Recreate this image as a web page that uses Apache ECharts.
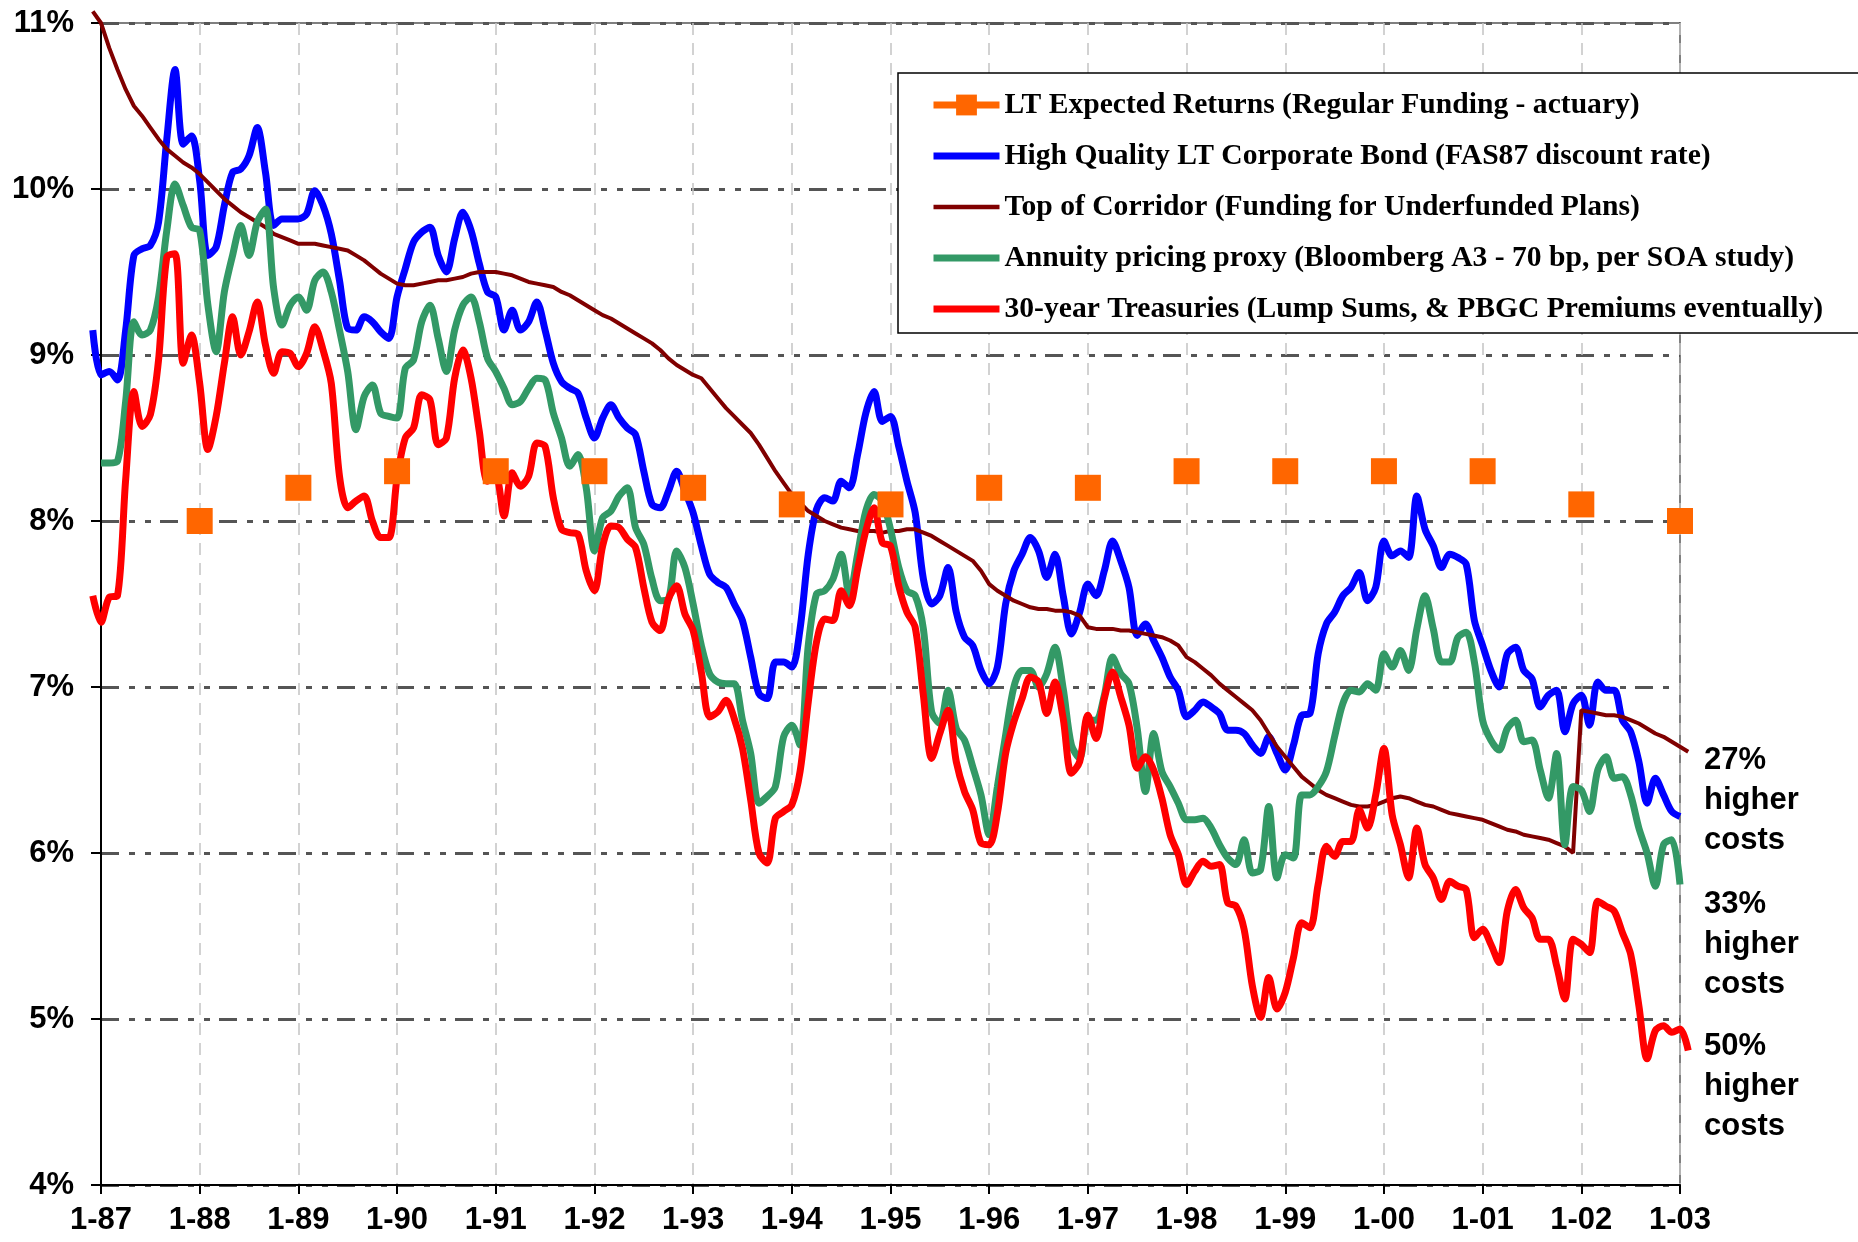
<!DOCTYPE html>
<html>
<head>
<meta charset="utf-8">
<title>Discount rates vs expected returns 1987-2003</title>
<script src="https://cdn.jsdelivr.net/npm/echarts@6/dist/echarts.min.js"></script>
<style>
  html, body { margin: 0; padding: 0; background: #fff; }
  #chart { width: 1858px; height: 1242px; }
</style>
</head>
<body>
<div id="chart"></div>
<script>
// monthly readings, the first one is Dec 1986
const START_YEAR = 1986
const START_MONTH = 12

const legendNames = [
    'LT Expected Returns (Regular Funding - actuary)',
    'High Quality LT Corporate Bond (FAS87 discount rate)',
    'Top of Corridor (Funding for Underfunded Plans)',
    'Annuity pricing proxy (Bloomberg A3 - 70 bp, per SOA study)',
    '30-year Treasuries (Lump Sums, & PBGC Premiums eventually)'
]

const xTickLabels = ['1-87', '1-88', '1-89', '1-90', '1-91', '1-92', '1-93', '1-94', '1-95',
    '1-96', '1-97', '1-98', '1-99', '1-00', '1-01', '1-02', '1-03']

// actuary's assumption, one per January
const expectedYears = [1988, 1989, 1990, 1991, 1992, 1993, 1994, 1995, 1996, 1997, 1998, 1999, 2000, 2001, 2002, 2003]
const expectedReturns = [8.0, 8.2, 8.3, 8.3, 8.3, 8.2, 8.1, 8.1, 8.2, 8.2, 8.3, 8.3, 8.3, 8.3, 8.1, 8.0]

// Dec 86 .. Jan 03
const corpBond = [
    9.15,
    8.88, 8.9, 8.85, 9.15, 9.6, 9.64, 9.66, 9.8, 10.3, 10.72, 10.27, 10.32,
    10.05, 9.6, 9.65, 9.9, 10.1, 10.12, 10.2, 10.37, 10.1, 9.78, 9.82, 9.82,
    9.82, 9.85, 9.99, 9.9, 9.73, 9.45, 9.16, 9.15, 9.23, 9.2, 9.14, 9.1,
    9.35, 9.52, 9.68, 9.74, 9.77, 9.6, 9.5, 9.7, 9.86, 9.75, 9.55, 9.38,
    9.35, 9.15, 9.27, 9.15, 9.2, 9.32, 9.15, 8.95, 8.84, 8.8, 8.77, 8.62,
    8.5, 8.62, 8.7, 8.62, 8.56, 8.52, 8.3, 8.1, 8.08, 8.18, 8.3, 8.18,
    8.05, 7.85, 7.68, 7.63, 7.6, 7.5, 7.4, 7.18, 6.96, 6.93, 7.15, 7.15,
    7.12, 7.35, 7.8, 8.07, 8.14, 8.12, 8.24, 8.2, 8.4, 8.65, 8.78, 8.6,
    8.63, 8.45, 8.24, 8.05, 7.65, 7.5, 7.55, 7.72, 7.45, 7.3, 7.25, 7.1,
    7.02, 7.12, 7.5, 7.7, 7.8, 7.9, 7.82, 7.66, 7.8, 7.55, 7.32, 7.45,
    7.62, 7.55, 7.7, 7.88, 7.76, 7.6, 7.31, 7.38, 7.28, 7.18, 7.06, 6.98,
    6.82, 6.86, 6.91, 6.88, 6.84, 6.74, 6.74, 6.72, 6.65, 6.6, 6.7, 6.6,
    6.5, 6.65, 6.83, 6.84, 7.2, 7.38, 7.45, 7.55, 7.6, 7.69, 7.52, 7.6,
    7.88, 7.79, 7.82, 7.78, 8.15, 7.95, 7.85, 7.72, 7.8, 7.78, 7.74, 7.4,
    7.25, 7.1, 7.0, 7.2, 7.24, 7.1, 7.05, 6.88, 6.95, 6.98, 6.73, 6.9,
    6.95, 6.77, 7.03, 6.98, 6.98, 6.8, 6.73, 6.55, 6.3, 6.45, 6.35, 6.25,
    6.22
]

// Dec 86 .. Feb 03
const corridorTop = [
    11.07,
    11.0, 10.85, 10.72, 10.6, 10.5, 10.44, 10.37, 10.3, 10.24, 10.2, 10.16, 10.13,
    10.09, 10.04, 9.99, 9.94, 9.9, 9.86, 9.83, 9.8, 9.77, 9.73, 9.71, 9.69,
    9.67, 9.67, 9.67, 9.66, 9.65, 9.64, 9.63, 9.6, 9.57, 9.53, 9.49, 9.46,
    9.43, 9.42, 9.42, 9.43, 9.44, 9.45, 9.45, 9.46, 9.47, 9.49, 9.5, 9.5,
    9.5, 9.49, 9.48, 9.46, 9.44, 9.43, 9.42, 9.41, 9.38, 9.36, 9.33, 9.3,
    9.27, 9.24, 9.22, 9.19, 9.16, 9.13, 9.1, 9.07, 9.03, 8.98, 8.94, 8.91,
    8.88, 8.86, 8.8, 8.74, 8.68, 8.63, 8.58, 8.53, 8.46, 8.38, 8.3, 8.23,
    8.16, 8.11, 8.06, 8.03, 8.0, 7.98, 7.96, 7.95, 7.94, 7.94, 7.94, 7.93,
    7.94, 7.94, 7.95, 7.95, 7.93, 7.91, 7.88, 7.85, 7.82, 7.79, 7.76, 7.7,
    7.62, 7.58, 7.55, 7.52, 7.5, 7.48, 7.47, 7.47, 7.46, 7.46, 7.45, 7.43,
    7.36, 7.35, 7.35, 7.35, 7.34, 7.34, 7.33, 7.32, 7.31, 7.3, 7.28, 7.25,
    7.18, 7.15, 7.11, 7.07, 7.02, 6.98, 6.94, 6.9, 6.86, 6.8, 6.72, 6.64,
    6.58, 6.52, 6.46, 6.42, 6.38, 6.35, 6.33, 6.31, 6.29, 6.28, 6.28, 6.29,
    6.31, 6.33, 6.34, 6.33, 6.31, 6.29, 6.28, 6.26, 6.24, 6.23, 6.22, 6.21,
    6.2, 6.18, 6.16, 6.14, 6.13, 6.11, 6.1, 6.09, 6.08, 6.06, 6.04, 6.0,
    6.86, 6.85, 6.84, 6.83, 6.83, 6.82, 6.8, 6.78, 6.75, 6.72, 6.7, 6.67,
    6.64, 6.61
]

// Dec 86 (none) .. Jan 03
const annuityProxy = [
    null,
    8.35, 8.35, 8.36, 8.72, 9.2, 9.12, 9.15, 9.35, 9.75, 10.03, 9.9, 9.77,
    9.75, 9.3, 9.02, 9.38, 9.6, 9.78, 9.6, 9.8, 9.88, 9.4, 9.18, 9.3,
    9.35, 9.27, 9.45, 9.5, 9.38, 9.15, 8.9, 8.55, 8.75, 8.82, 8.65, 8.63,
    8.62, 8.92, 8.97, 9.2, 9.3, 9.1, 8.9, 9.15, 9.3, 9.35, 9.2, 8.98,
    8.9, 8.8, 8.7, 8.72, 8.8, 8.86, 8.85, 8.65, 8.5, 8.33, 8.4, 8.2,
    7.82, 8.02, 8.06, 8.15, 8.2, 7.96, 7.86, 7.65, 7.52, 7.53, 7.82, 7.72,
    7.5, 7.25, 7.08, 7.03, 7.02, 7.02, 6.8, 6.6, 6.3, 6.34, 6.4, 6.7,
    6.77, 6.65, 7.25, 7.56, 7.58, 7.65, 7.8, 7.55, 7.8, 8.06, 8.16, 8.12,
    7.95, 7.72, 7.58, 7.55, 7.35, 6.85, 6.78, 6.98, 6.75, 6.68, 6.52, 6.35,
    6.11, 6.4, 6.71, 7.0, 7.1, 7.1, 7.0, 7.08, 7.24, 6.99, 6.65, 6.57,
    6.8, 6.8, 6.95, 7.18, 7.08, 7.02, 6.75, 6.37, 6.72, 6.49, 6.4, 6.3,
    6.2, 6.2, 6.21, 6.15, 6.05, 5.97, 5.93, 6.08, 5.88, 5.9, 6.28, 5.85,
    5.99, 5.97, 6.35, 6.35, 6.4, 6.49, 6.7, 6.9, 6.98, 6.97, 7.02, 6.98,
    7.2, 7.12, 7.22, 7.1, 7.35, 7.55, 7.35, 7.15, 7.15, 7.3, 7.33, 7.15,
    6.8, 6.68, 6.62, 6.75, 6.8, 6.67, 6.68, 6.5, 6.33, 6.6, 6.05, 6.4,
    6.38, 6.25, 6.5, 6.58, 6.45, 6.46, 6.35, 6.15, 6.0, 5.8, 6.05, 6.08,
    5.81
]

// Dec 86 .. Feb 03
const treasury30 = [
    7.55,
    7.39, 7.54, 7.55, 8.25, 8.78, 8.57, 8.64, 8.97, 9.59, 9.61, 8.95, 9.12,
    8.83, 8.43, 8.63, 8.95, 9.23, 9.0, 9.14, 9.32, 9.06, 8.89, 9.02, 9.01,
    8.93, 9.01, 9.17, 9.03, 8.83, 8.27, 8.08, 8.12, 8.15, 8.0, 7.9, 7.9,
    8.26, 8.5, 8.56, 8.76, 8.73, 8.46, 8.5, 8.86, 9.03, 8.86, 8.54, 8.24,
    8.27, 8.03, 8.29, 8.21, 8.27, 8.47, 8.45, 8.14, 7.95, 7.93, 7.92, 7.7,
    7.58, 7.85, 7.97, 7.96, 7.89, 7.84, 7.6, 7.39, 7.34, 7.53, 7.61, 7.44,
    7.34, 7.09, 6.82, 6.85, 6.92, 6.81, 6.63, 6.32, 6.0, 5.94, 6.21, 6.25,
    6.29, 6.49, 6.91, 7.27, 7.41, 7.4, 7.58, 7.49, 7.71, 7.94, 8.08, 7.87,
    7.85, 7.61, 7.45, 7.36, 6.95, 6.57, 6.72, 6.86, 6.55, 6.37, 6.26, 6.06,
    6.05, 6.24, 6.6, 6.79, 6.93, 7.06, 7.03, 6.84, 7.03, 6.81, 6.48, 6.55,
    6.83, 6.69, 6.93, 7.09, 6.94, 6.77, 6.51, 6.58, 6.5, 6.33, 6.11, 5.99,
    5.81, 5.89, 5.95, 5.92, 5.93, 5.7, 5.68, 5.54, 5.2, 5.01, 5.25, 5.06,
    5.16, 5.37, 5.58, 5.55, 5.81, 6.04, 5.98, 6.07, 6.07, 6.26, 6.15, 6.35,
    6.63, 6.23, 6.05, 5.85, 6.15, 5.93, 5.85, 5.72, 5.83, 5.8, 5.78, 5.49,
    5.54, 5.45, 5.34, 5.65, 5.78, 5.67, 5.61, 5.48, 5.48, 5.32, 5.12, 5.48,
    5.45, 5.4, 5.71, 5.68, 5.65, 5.52, 5.39, 5.08, 4.76, 4.93, 4.96, 4.92,
    4.94, 4.81
]

const costNotes = ['27%\nhigher\ncosts', '33%\nhigher\ncosts', '50%\nhigher\ncosts']

const SANS = 'Liberation Sans, Arial, sans-serif'
const SERIF = 'Liberation Serif, Times New Roman, serif'

// plot box of the visible axes
const PLOT = { left: 101, right: 178, top: 23, bottom: 57 }
const X_MIN = 1987, X_MAX = 2003, Y_MIN = 4, Y_MAX = 11
const pxPerYear = (1858 - PLOT.left - PLOT.right) / (X_MAX - X_MIN)
const pxPerPct = (1242 - PLOT.top - PLOT.bottom) / (Y_MAX - Y_MIN)

// the monthly lines run a little past both ends of the axis, so they sit
// on a second, hidden grid with a wider range and the same scale
const monthX = i => START_YEAR + (START_MONTH - 1 + i) / 12
const LINE_X_MIN = monthX(0)
const LINE_X_MAX = monthX(treasury30.length - 1)
const LINE_Y_MAX = 11.1

const toPairs = arr => arr.map((v, i) => [monthX(i), v])

const lineSeries = (name, values, color, width, smooth) => ({
    name: name,
    type: 'line',
    xAxisIndex: 1,
    yAxisIndex: 1,
    data: toPairs(values),
    symbol: 'none',
    smooth: smooth,
    lineStyle: { color: color, width: width },
    itemStyle: { color: color }
})

const chart = echarts.init(document.getElementById('chart'))

chart.setOption({
    animation: false,
    backgroundColor: '#fff',
    grid: [
        {
            left: PLOT.left, right: PLOT.right, top: PLOT.top, bottom: PLOT.bottom,
            show: true, borderColor: '#808080', borderWidth: 2
        },
        {
            left: PLOT.left - (X_MIN - LINE_X_MIN) * pxPerYear,
            right: PLOT.right - (LINE_X_MAX - X_MAX) * pxPerYear,
            top: PLOT.top - (LINE_Y_MAX - Y_MAX) * pxPerPct,
            bottom: PLOT.bottom
        }
    ],
    xAxis: [
        {
            type: 'value',
            min: X_MIN, max: X_MAX, interval: 1,
            axisLine: { lineStyle: { color: '#000', width: 2 } },
            axisTick: { length: 9, lineStyle: { color: '#000', width: 2 } },
            axisLabel: {
                margin: 20,
                fontFamily: SANS, fontWeight: 'bold', fontSize: 31, color: '#000',
                formatter: v => xTickLabels[Math.round(v - X_MIN)]
            },
            splitLine: { show: true, lineStyle: { color: '#c4c4c4', width: 1.5, type: [12, 8] } }
        },
        { type: 'value', gridIndex: 1, min: LINE_X_MIN, max: LINE_X_MAX, show: false }
    ],
    yAxis: [
        {
            type: 'value',
            min: Y_MIN, max: Y_MAX, interval: 1,
            axisLine: { show: true, lineStyle: { color: '#000', width: 2 } },
            axisTick: { show: true, length: 10, lineStyle: { color: '#000', width: 2 } },
            axisLabel: {
                margin: 27,
                fontFamily: SANS, fontWeight: 'bold', fontSize: 31, color: '#000',
                formatter: '{value}%'
            },
            splitLine: { lineStyle: { color: '#555', width: 3, type: [18, 10, 6, 10, 6, 9] } }
        },
        { type: 'value', gridIndex: 1, min: Y_MIN, max: LINE_Y_MAX, show: false, splitLine: { show: false } }
    ],
    legend: {
        orient: 'vertical',
        left: 898, top: 73,
        padding: [17, 54, 9, 32],
        borderColor: '#000', borderWidth: 1.5,
        backgroundColor: '#fff',
        itemWidth: 66, itemHeight: 26, itemGap: 21,
        textStyle: { fontFamily: SERIF, fontWeight: 'bold', fontSize: 29.6, lineHeight: 30, color: '#000' },
        data: [
            { name: legendNames[0], lineStyle: { color: '#FF6600', width: 7, opacity: 1 } },
            { name: legendNames[1], itemStyle: { opacity: 0 }, lineStyle: { width: 7 } },
            { name: legendNames[2], itemStyle: { opacity: 0 }, lineStyle: { width: 4.5 } },
            { name: legendNames[3], itemStyle: { opacity: 0 }, lineStyle: { width: 7 } },
            { name: legendNames[4], itemStyle: { opacity: 0 }, lineStyle: { width: 7 } }
        ]
    },
    series: [
        lineSeries(legendNames[1], corpBond, '#0000FF', 7, 0.3),
        lineSeries(legendNames[2], corridorTop, '#800000', 4, false),
        lineSeries(legendNames[3], annuityProxy, '#339966', 7, 0.3),
        lineSeries(legendNames[4], treasury30, '#FF0000', 7, 0.3),
        {
            name: legendNames[0],
            type: 'line',
            data: expectedYears.map((y, i) => [y, expectedReturns[i]]),
            symbol: 'rect',
            symbolSize: 26,
            showSymbol: true,
            clip: false,
            z: 5,
            lineStyle: { width: 0, opacity: 0, color: '#FF6600' },
            itemStyle: { color: '#FF6600' }
        }
    ],
    graphic: costNotes.map((t, i) => ({
        type: 'text',
        left: 1704,
        top: [740, 884, 1026][i],
        style: {
            text: t,
            font: 'bold 31px ' + SANS,
            lineHeight: 40,
            fill: '#000'
        }
    }))
})
</script>
</body>
</html>
